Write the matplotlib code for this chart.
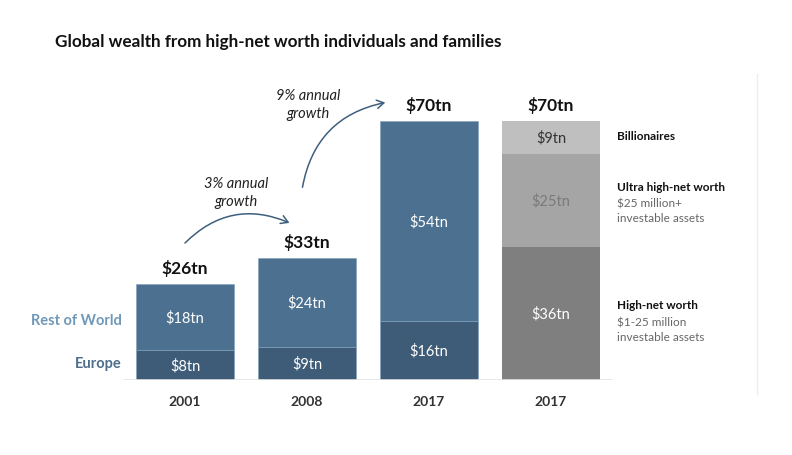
import matplotlib.pyplot as plt
from matplotlib.patches import FancyArrowPatch
from matplotlib.lines import Line2D

plt.rcParams['font.family'] = ['Lato', 'DejaVu Sans']

# data (trillion USD)
years = ['2001', '2008', '2017', '2017']
europe = [8, 9, 16]
rest_of_world = [18, 24, 54]
totals = [26, 33, 70, 70]
hnw = 36
uhnw = 25
billionaires = 9

c_row = '#4c7190'
c_eur = '#3e5c78'
c_bil = '#bfbfbf'
c_uhnw = '#a5a5a5'
c_hnw = '#7f7f7f'

W, H = 792, 456
fig = plt.figure(figsize=(W / 100, H / 100), dpi=100)
# axes placed so that bars sit on the baseline at y=381 px, 70tn at 122 px
ax = fig.add_axes([124 / W, (H - 381) / H, 488 / W, 259 / H])
ax.set_xlim(-0.5, 3.5)
ax.set_ylim(0, 70)
ax.axis('off')

bw = 0.8
x3 = [0, 1, 2]
ax.bar(x3, europe, width=bw, color=c_eur, edgecolor='#7fa0bb', linewidth=0.4)
ax.bar(x3, rest_of_world, width=bw, bottom=europe, color=c_row, edgecolor='#7fa0bb', linewidth=0.4)
ax.bar(3, hnw, width=bw, color=c_hnw)
ax.bar(3, uhnw, width=bw, bottom=hnw, color=c_uhnw)
ax.bar(3, billionaires, width=bw, bottom=hnw + uhnw, color=c_bil)
ax.axhline(0, color='#e3e3e3', lw=1.2, xmin=0, xmax=1)

for i in x3:
    ax.text(i, europe[i] / 2, f'${europe[i]}tn', ha='center', va='center',
            color='white', fontsize=10.5)
    ax.text(i, europe[i] + rest_of_world[i] / 2, f'${rest_of_world[i]}tn',
            ha='center', va='center', color='white', fontsize=10.5)
ax.text(3, hnw / 2, f'${hnw}tn', ha='center', va='center', color='white', fontsize=10.5)
ax.text(3, hnw + uhnw / 2, f'${uhnw}tn', ha='center', va='center', color='#7a7a7a', fontsize=10.5)
ax.text(3, hnw + uhnw + billionaires / 2, f'${billionaires}tn', ha='center', va='center',
        color='#333333', fontsize=10.5)

for i, t in enumerate(totals):
    ax.text(i, t + 2.2, f'${t}tn', ha='center', va='bottom', fontsize=12.5,
            fontweight='bold', color='#111111', clip_on=False)

for i, y in enumerate(years):
    ax.text(i, -5.8, y, ha='center', va='center', fontsize=10, fontweight='bold',
            color='#333333', clip_on=False)

# left legend labels
ax.text(-0.52, 16.2, 'Rest of World', ha='right', va='center',
        fontsize=10.5, fontweight='bold', color='#7098b8', clip_on=False)
ax.text(-0.52, 4.6, 'Europe', ha='right', va='center',
        fontsize=10.5, fontweight='bold', color='#4d6d8c', clip_on=False)

# right labels
rx = 3.54
ax.text(rx, hnw + uhnw + billionaires / 2 + 0.6, 'Billionaires', ha='left', va='center',
        fontsize=8.5, fontweight='bold', color='#111111', clip_on=False)
ax.text(rx, 52.3, 'Ultra high-net worth', ha='left', va='center',
        fontsize=8.5, fontweight='bold', color='#111111', clip_on=False)
ax.text(rx, 45.9, '$25 million+\ninvestable assets', ha='left', va='center',
        fontsize=8.5, color='#666666', linespacing=1.4, clip_on=False)
ax.text(rx, 20.3, 'High-net worth', ha='left', va='center',
        fontsize=8.5, fontweight='bold', color='#111111', clip_on=False)
ax.text(rx, 13.8, '$1-25 million\ninvestable assets', ha='left', va='center',
        fontsize=8.5, color='#666666', linespacing=1.4, clip_on=False)

# growth annotations
def px(x, y):
    return ((x - 124) / 122 - 0.5, (381 - y) / 3.7)

arrow_kw = dict(arrowstyle='->,head_length=5,head_width=3', color='#3e5f7d', lw=1.1,
                mutation_scale=1, clip_on=False)
ax.add_patch(FancyArrowPatch(px(183, 246), px(292, 225),
                             connectionstyle='arc3,rad=-0.35', **arrow_kw))
ax.add_patch(FancyArrowPatch(px(302, 191), px(388, 103),
                             connectionstyle='arc3,rad=-0.35', **arrow_kw))
ax.text(*px(236, 193), '3% annual\ngrowth', ha='center', va='center', fontsize=10.5,
        style='italic', color='#222222', linespacing=1.3)
ax.text(*px(308, 105), '9% annual\ngrowth', ha='center', va='center', fontsize=10.5,
        style='italic', color='#222222', linespacing=1.3, clip_on=False)

fig.text(55 / W, 1 - 42 / H, 'Global wealth from high-net worth individuals and families',
         ha='left', va='center', fontsize=12.3, fontweight='bold', color='#111111')
fig.add_artist(Line2D([757 / W, 757 / W], [1 - 75 / H, 1 - 395 / H], color='#eeeeee', lw=1))

fig.savefig('out.png', dpi=100, facecolor='white')
